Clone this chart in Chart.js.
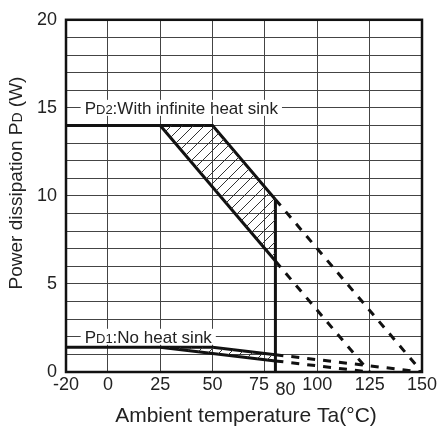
<!DOCTYPE html>
<html>
<head>
<meta charset="utf-8">
<script src="https://cdn.jsdelivr.net/npm/chart.js@4/dist/chart.umd.min.js"></script>
<style>
  body { margin: 0; background: #fff; }
  #wrap { width: 440px; height: 428px; }
</style>
</head>
<body>
<div id="wrap"><canvas id="grafico"></canvas></div>
<script>
// valores
const xTicks = [-20, 0, 25, 50, 75, 80, 100, 125, 150];
const xGridSkip = [80];
const yTickLabels = [0, 5, 10, 15, 20];

const pd2OuterX = [-20, 50, 80];
const pd2OuterY = [14, 14, 9.8];
const pd2InnerX = [25, 80];
const pd2InnerY = [14, 6.3];
const pd2DashAX = [80, 150];
const pd2DashAY = [9.8, 0];
const pd2DashBX = [80, 125];
const pd2DashBY = [6.3, 0];

const limitX = [80, 80];
const limitY = [9.8, 0];

const pd1OuterX = [-20, 50, 80];
const pd1OuterY = [1.4, 1.4, 0.98];
const pd1InnerX = [25, 80];
const pd1InnerY = [1.4, 0.63];
const pd1DashAX = [80, 150];
const pd1DashAY = [0.98, 0];
const pd1DashBX = [80, 125];
const pd1DashBY = [0.63, 0];

const pd2Label = ["P", "D2", ":With infinite heat sink"];
const pd1Label = ["P", "D1", ":No heat sink"];
const labelY = [15, 2];
const xTitle = "Ambient temperature Ta(°C)";
const yTitle = ["Power dissipation P", "D", " (W)"];

const pts = (xs, ys) => xs.map((x, i) => ({ x: x, y: ys[i] }));

// area hachurada: entre a linha interna e a externa ate 80
const poligono = (ox, oy, ix, iy) => [
    { x: ix[0], y: iy[0] },
    { x: ox[1], y: oy[1] },
    { x: ox[2], y: oy[2] },
    { x: ix[1], y: iy[1] },
    { x: ix[0], y: iy[0] }
];

const hachura = () => {
    const s = 11;
    const c = document.createElement("canvas");
    c.width = s; c.height = s;
    const g = c.getContext("2d");
    g.strokeStyle = "#333";
    g.lineWidth = 1;
    g.beginPath();
    g.moveTo(0, s); g.lineTo(s, 0);
    g.moveTo(-s / 2, s / 2); g.lineTo(s / 2, -s / 2);
    g.moveTo(s / 2, s * 1.5); g.lineTo(s * 1.5, s / 2);
    g.stroke();
    return g.createPattern(c, "repeat");
};

const linha = (data, dash) => ({
    data: data,
    borderColor: "#111",
    borderWidth: 3,
    borderDash: dash ? [8, 8] : [],
    pointRadius: 0,
    fill: false,
    tension: 0
});

const area = (data) => ({
    data: data,
    borderWidth: 0,
    borderColor: "rgba(0,0,0,0)",
    backgroundColor: hachura(),
    pointRadius: 0,
    fill: "shape",
    tension: 0
});

const FONTE = "Liberation Sans, Arial, sans-serif";

const largura = (ctx, partes, tam) => {
    let w = 0;
    partes.forEach((p, i) => {
        ctx.font = tam[i] + "px " + FONTE;
        w += ctx.measureText(p).width;
    });
    return w;
};

const desenhaPartes = (ctx, partes, tam, x, y) => {
    let cx = x;
    partes.forEach((p, i) => {
        ctx.font = tam[i] + "px " + FONTE;
        ctx.fillText(p, cx, y);
        cx += ctx.measureText(p).width;
    });
};

const extras = {
    id: "extras",
    beforeDatasetsDraw(chart) {
        const ctx = chart.ctx;
        const sx = chart.scales.x, sy = chart.scales.y;
        const tam = [17, 13, 17];
        [pd2Label, pd1Label].forEach((lab, i) => {
            const x0 = sx.getPixelForValue(-13);
            const y0 = sy.getPixelForValue(labelY[i]);
            const w = largura(ctx, lab, tam);
            ctx.save();
            ctx.fillStyle = "#fff";
            ctx.fillRect(x0, y0 - 8, w + 8, 16);
            ctx.fillStyle = "#222";
            ctx.textBaseline = "alphabetic";
            desenhaPartes(ctx, lab, tam, x0 + 4, y0 + 6);
            ctx.restore();
        });
    },
    afterDraw(chart) {
        const ctx = chart.ctx;
        const a = chart.chartArea;
        const sx = chart.scales.x;
        ctx.save();
        // moldura
        ctx.strokeStyle = "#111";
        ctx.lineWidth = 2.5;
        ctx.strokeRect(a.left, a.top, a.right - a.left, a.bottom - a.top);

        // rotulos do eixo x
        ctx.fillStyle = "#222";
        ctx.font = "18px " + FONTE;
        ctx.textAlign = "center";
        ctx.textBaseline = "middle";
        const dx = { 75: -6, 80: 10 };
        const dy = { 80: 5 };
        xTicks.forEach(v => {
            ctx.fillText(String(v), sx.getPixelForValue(v) + (dx[v] || 0), a.bottom + 13 + (dy[v] || 0));
        });

        // titulo x
        ctx.font = "21px " + FONTE;
        ctx.fillText(xTitle, (a.left + a.right) / 2 + 2, a.bottom + 44);

        // titulo y
        const tam = [19, 14, 19];
        const w = largura(ctx, yTitle, tam);
        ctx.translate(15, 183);
        ctx.rotate(-Math.PI / 2);
        ctx.textAlign = "left";
        ctx.textBaseline = "alphabetic";
        desenhaPartes(ctx, yTitle, tam, -w / 2, 7);
        ctx.restore();
    }
};

new Chart(document.getElementById("grafico"), {
    type: "line",
    data: {
        datasets: [
            area(poligono(pd2OuterX, pd2OuterY, pd2InnerX, pd2InnerY)),
            area(poligono(pd1OuterX, pd1OuterY, pd1InnerX, pd1InnerY)),
            linha(pts(pd2OuterX, pd2OuterY), false),
            linha(pts(pd2InnerX, pd2InnerY), false),
            linha(pts(limitX, limitY), false),
            linha(pts(pd2DashAX, pd2DashAY), true),
            linha(pts(pd2DashBX, pd2DashBY), true),
            linha(pts(pd1OuterX, pd1OuterY), false),
            linha(pts(pd1InnerX, pd1InnerY), false),
            linha(pts(pd1DashAX, pd1DashAY), true),
            linha(pts(pd1DashBX, pd1DashBY), true)
        ]
    },
    options: {
        responsive: true,
        maintainAspectRatio: false,
        animation: false,
        events: [],
        layout: { padding: { top: 17, right: 18, left: 0, bottom: 0 } },
        plugins: { legend: { display: false }, tooltip: { enabled: false } },
        scales: {
            x: {
                type: "linear",
                min: -20,
                max: 150,
                afterBuildTicks: s => { s.ticks = xTicks.map(v => ({ value: v })); },
                afterFit: s => { s.height = 56; },
                ticks: { display: false },
                border: { display: false },
                grid: {
                    drawTicks: false,
                    lineWidth: 1,
                    color: c => xGridSkip.includes(c.tick && c.tick.value) ? "rgba(0,0,0,0)" : "#444"
                }
            },
            y: {
                min: 0,
                max: 20,
                afterFit: s => { s.width = 66; },
                ticks: {
                    stepSize: 1,
                    autoSkip: false,
                    padding: 9,
                    color: "#222",
                    font: { family: FONTE, size: 18 },
                    callback: v => yTickLabels.includes(v) ? String(v) : ""
                },
                border: { display: false },
                grid: { drawTicks: false, lineWidth: 1, color: "#444" }
            }
        }
    },
    plugins: [extras]
});
</script>
</body>
</html>
